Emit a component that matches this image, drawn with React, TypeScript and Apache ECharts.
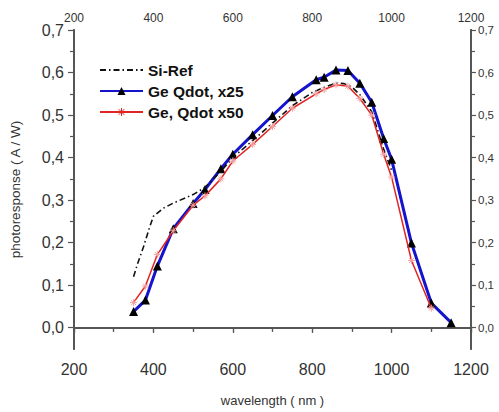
import React, { useEffect, useRef } from "react";
import * as echarts from "echarts";

const siX = [350, 360, 375, 390, 400, 425, 450, 500, 530, 570, 600, 650, 700, 750, 800, 830, 860, 880, 900, 920, 950, 980, 1000];
const siY = [0.12, 0.15, 0.19, 0.235, 0.262, 0.281, 0.293, 0.313, 0.33, 0.368, 0.4, 0.44, 0.481, 0.522, 0.553, 0.565, 0.575, 0.574, 0.566, 0.548, 0.508, 0.42, 0.37];

const blueX = [350, 380, 410, 450, 500, 530, 570, 600, 650, 700, 750, 810, 830, 860, 890, 920, 950, 980, 1000, 1050, 1100, 1150];
const blueY = [0.038, 0.065, 0.145, 0.233, 0.292, 0.325, 0.374, 0.408, 0.454, 0.499, 0.543, 0.583, 0.589, 0.606, 0.605, 0.575, 0.53, 0.445, 0.396, 0.199, 0.058, 0.012];

const redX = [350, 380, 410, 450, 500, 530, 570, 600, 650, 700, 750, 810, 830, 860, 890, 920, 950, 980, 1000, 1050, 1100];
const redY = [0.059, 0.098, 0.172, 0.228, 0.288, 0.31, 0.35, 0.392, 0.431, 0.473, 0.516, 0.55, 0.56, 0.571, 0.568, 0.539, 0.5, 0.408, 0.354, 0.158, 0.046];

const yMajor = [0, 0.1, 0.2, 0.3, 0.4, 0.5, 0.6, 0.7];
const yMinor = [0.05, 0.15, 0.25, 0.35, 0.45, 0.55, 0.65];

const zip = (xs: number[], ys: number[]) => xs.map((x, i) => [x, ys[i]]);
const fmtY = (v: number) => v.toFixed(1).replace(".", ",");
const fmtX = (v: number) => String(Math.round(v));

const asterisk = "path://M5,0L5,10M0,5L10,5M1.5,1.5L8.5,8.5M1.5,8.5L8.5,1.5";

export default function App() {
  const ref = useRef<HTMLDivElement>(null);
  useEffect(() => {
    document.body.style.margin = "0";
    const chart = echarts.init(ref.current!, null, { renderer: "svg" });
    const axisLine = { show: true, lineStyle: { color: "#555", width: 1.8 } };
    const tickStyle = { color: "#555", width: 1.2 };
    const font = "Liberation Sans, Arial, sans-serif";
    chart.setOption({
      animation: false,
      backgroundColor: "#fff",
      grid: { left: 73, right: 28, top: 30, bottom: 57 },
      legend: {
        orient: "vertical",
        left: 94,
        top: 57,
        itemWidth: 43,
        itemHeight: 10,
        itemGap: 5,
        textStyle: { fontFamily: font, fontSize: 15.5, fontWeight: "bold", color: "#111" },
        data: [
          { name: "Si-Ref", itemStyle: { color: "transparent", borderColor: "transparent", borderWidth: 0 } },
          { name: "Ge Qdot, x25" },
          { name: "Ge, Qdot x50", itemStyle: { color: "transparent", borderColor: "#e02424", borderWidth: 1 } },
        ],
      },
      xAxis: [
        {
          type: "value", position: "bottom", min: 200, max: 1200, interval: 200,
          name: "wavelength ( nm )", nameLocation: "middle", nameGap: 45,
          nameTextStyle: { fontFamily: font, fontSize: 13, color: "#333" },
          axisLine,
          axisTick: { show: true, inside: false, length: 5, lineStyle: tickStyle },
          minorTick: { show: true, splitNumber: 2, length: 4, lineStyle: tickStyle },
          axisLabel: { formatter: fmtX, fontFamily: font, fontSize: 16, color: "#333", margin: 12 },
          splitLine: { show: false },
        },
        {
          type: "value", position: "top", min: 200, max: 1200, interval: 200,
          axisLine,
          axisTick: { show: true, inside: true, length: 5, lineStyle: tickStyle },
          minorTick: { show: true, splitNumber: 2, length: 4, lineStyle: tickStyle },
          axisLabel: { formatter: fmtX, fontFamily: font, fontSize: 12, color: "#333", margin: 6 },
          splitLine: { show: false },
        },
      ],
      yAxis: [
        {
          type: "value", position: "left", min: -0.05, max: 0.7,
          name: "photoresponse ( A / W)", nameLocation: "middle", nameGap: 52,
          nameTextStyle: { fontFamily: font, fontSize: 13.5, color: "#333" },
          axisLine,
          axisTick: { show: true, customValues: yMajor, length: 6, lineStyle: tickStyle },
          axisLabel: { customValues: yMajor, formatter: fmtY, fontFamily: font, fontSize: 16, color: "#333", margin: 10 },
          splitLine: { show: false },
        },
        {
          type: "value", position: "left", min: -0.05, max: 0.7,
          axisLine,
          axisTick: { show: true, customValues: yMinor, length: 4, lineStyle: tickStyle },
          axisLabel: { show: false },
          splitLine: { show: false },
        },
        {
          type: "value", position: "right", min: -0.05, max: 0.7,
          axisLine,
          axisTick: { show: true, customValues: yMajor, length: 5, lineStyle: tickStyle },
          axisLabel: { customValues: yMajor, formatter: fmtY, fontFamily: font, fontSize: 11.5, color: "#333", margin: 7 },
          splitLine: { show: false },
        },
        {
          type: "value", position: "right", min: -0.05, max: 0.7,
          axisLine,
          axisTick: { show: true, customValues: yMinor, length: 4, lineStyle: tickStyle },
          axisLabel: { show: false },
          splitLine: { show: false },
        },
      ],
      series: [
        {
          name: "Si-Ref", type: "line", data: zip(siX, siY), symbol: "none",
          lineStyle: { color: "#111", width: 1.6, type: [6, 3, 1.5, 3] },
          itemStyle: { color: "#111" },
          z: 3,
        },
        {
          name: "Ge Qdot, x25", type: "line", data: zip(blueX, blueY),
          symbol: "triangle", symbolSize: 9,
          lineStyle: { color: "#1414cc", width: 3 },
          itemStyle: { color: "#000" },
          z: 2,
        },
        {
          name: "Ge, Qdot x50", type: "line", data: zip(redX, redY),
          symbol: asterisk, symbolSize: 7,
          lineStyle: { color: "#e02424", width: 1.5 },
          itemStyle: { color: "transparent", borderColor: "#f4a0a0", borderWidth: 1 },
          z: 4,
        },
      ],
    });
    return () => chart.dispose();
  }, []);
  return <div ref={ref} style={{ width: 499, height: 412 }} />;
}
